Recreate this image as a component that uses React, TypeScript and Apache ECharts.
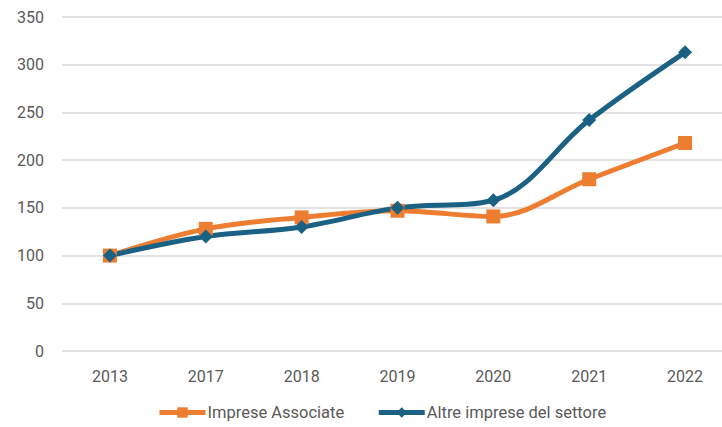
import React, { useEffect, useRef } from "react";
import * as echarts from "echarts";

const categories = ["2013", "2017", "2018", "2019", "2020", "2021", "2022"];
const impreseAssociate = [100, 128, 140, 147, 141, 180, 218];
const altreImprese = [100, 120, 130, 150, 158, 242, 313];
const yTicks = { min: 0, max: 350, interval: 50 };

export default function App() {
  const ref = useRef<HTMLDivElement>(null);
  useEffect(() => {
    if (!ref.current) return;
    const chart = echarts.init(ref.current, null, { renderer: "svg" });
    const font = "Roboto, 'Noto Sans', sans-serif";
    chart.setOption({
      animation: false,
      textStyle: { fontFamily: font },
      grid: { left: 62, top: 17, right: 0, height: 334, containLabel: false },
      legend: {
        bottom: 6,
        left: 157,
        padding: 0,
        itemWidth: 46,
        itemHeight: 13,
        itemGap: 32,
        lineStyle: { width: 5 },
        textStyle: { fontSize: 16.5, color: "#595959", fontFamily: font, padding: [0, 0, 0, -3] },
        data: ["Imprese Associate", "Altre imprese del settore"],
      },
      xAxis: {
        type: "category",
        data: categories,
        boundaryGap: true,
        axisLine: { show: false },
        axisTick: { show: false },
        axisLabel: { color: "#595959", fontSize: 16, margin: 17 },
      },
      yAxis: {
        type: "value",
        min: yTicks.min,
        max: yTicks.max,
        interval: yTicks.interval,
        axisLine: { show: false },
        axisTick: { show: false },
        axisLabel: { color: "#595959", fontSize: 16, margin: 18 },
        splitLine: { lineStyle: { color: "#d9d9d9", width: 1.5 } },
      },
      series: [
        {
          name: "Imprese Associate",
          type: "line",
          data: impreseAssociate,
          smooth: 0.35,
          symbol: "rect",
          symbolSize: 14,
          lineStyle: { color: "#ED7D31", width: 5 },
          itemStyle: { color: "#ED7D31" },
        },
        {
          name: "Altre imprese del settore",
          type: "line",
          data: altreImprese,
          smooth: 0.35,
          symbol: "diamond",
          symbolSize: 14,
          lineStyle: { color: "#1B6184", width: 5 },
          itemStyle: { color: "#1B6184" },
        },
      ],
    });
    return () => chart.dispose();
  }, []);
  return (
    <div style={{ position: "fixed", left: 0, top: 0, width: 722, height: 427, overflow: "hidden", background: "#fff" }}>
      <div ref={ref} style={{ width: 733, height: 427 }} />
    </div>
  );
}
